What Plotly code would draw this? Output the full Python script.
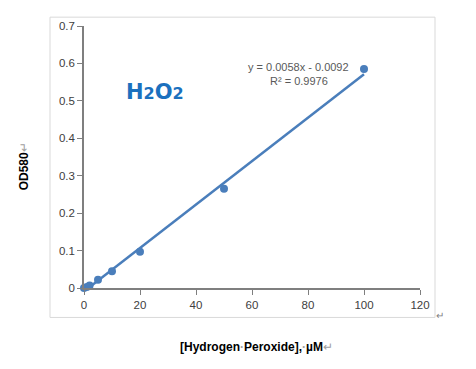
import plotly.graph_objects as go

conc = [0, 1, 2, 5, 10, 20, 50, 100]
od580 = [0.0, 0.003, 0.007, 0.022, 0.045, 0.097, 0.265, 0.585]
slope = 0.0058
intercept = -0.0092
fit_x = [0, 100]
fit_y = [slope * v + intercept for v in fit_x]
x_ticks = [0, 20, 40, 60, 80, 100, 120]
y_ticks = [0, 0.1, 0.2, 0.3, 0.4, 0.5, 0.6, 0.7]
y_tick_text = ["0", "0.1", "0.2", "0.3", "0.4", "0.5", "0.6", "0.7"]

blue = "#4A7EBB"
fig = go.Figure()
fig.add_trace(go.Scatter(x=fit_x, y=fit_y, mode="lines",
                         line=dict(color=blue, width=2.5), showlegend=False, hoverinfo="skip"))
fig.add_trace(go.Scatter(x=conc, y=od580, mode="markers",
                         marker=dict(color=blue, size=8), showlegend=False, cliponaxis=False))

OFF = 8  # default body margin of the page
L, R, T, B = 84, 420, 21, 288
W, H = 476 - 2 * OFF, 369 - 2 * OFF
def px(x):
    return (x - L) / (R - L)
def py(y):
    return (B - y) / (B - T)

fig.update_layout(
    width=W, height=H,
    margin=dict(l=L - OFF, r=W - (R - OFF), t=T - OFF, b=H - (B - OFF)),
    paper_bgcolor="white", plot_bgcolor="white",
    font=dict(family="Liberation Sans, Arial, sans-serif", color="#404040", size=11),
    xaxis=dict(range=[0, 120], tickvals=x_ticks, showgrid=False, zeroline=False,
               showline=True, linecolor="#7F7F7F", linewidth=1.5, ticks="outside",
               ticklen=5, tickcolor="#7F7F7F", tickfont=dict(size=11.5, color="#404040")),
    yaxis=dict(range=[0, 0.7], tickvals=y_ticks, ticktext=y_tick_text, showgrid=False,
               zeroline=False, showline=True, linecolor="#7F7F7F", linewidth=1.5,
               ticks="outside", ticklen=5, tickcolor="#7F7F7F",
               tickfont=dict(size=11.5, color="#404040")),
    shapes=[dict(type="rect", xref="paper", yref="paper",
                 x0=px(50), x1=px(435), y0=py(318), y1=py(12),
                 line=dict(color="#D9D9D9", width=1), layer="below")],
)

def note(x, y, text, font, **kw):
    fig.add_annotation(xref="paper", yref="paper", x=px(x), y=py(y), text=text,
                       showarrow=False, xanchor="center", yanchor="middle",
                       font=font, **kw)

note(298, 63, "y = 0.0058x - 0.0092", dict(size=11, color="#595959"))
note(299, 77, "R² = 0.9976", dict(size=11, color="#595959"))
note(155, 88, "<b>H<span style='font-size:16px'>2</span>O<span style='font-size:16px'>2</span></b>",
     dict(size=21, color="#1B70BE", family="DejaVu Sans, Arial, sans-serif"))
note(256, 348, "<b>[Hydrogen<span style='color:#A0A0A0'>·</span>Peroxide],<span style='color:#A0A0A0'>·</span>µM</b><span style='color:#A0A0A0'>↵</span>",
     dict(size=12, color="black"))
note(24, 164, "<b>OD580</b><span style='color:#A0A0A0'>↵</span>",
     dict(size=12, color="black"), textangle=-90)
note(440, 316, "↵", dict(size=10, color="#808080"))

fig.write_html("out.html")
